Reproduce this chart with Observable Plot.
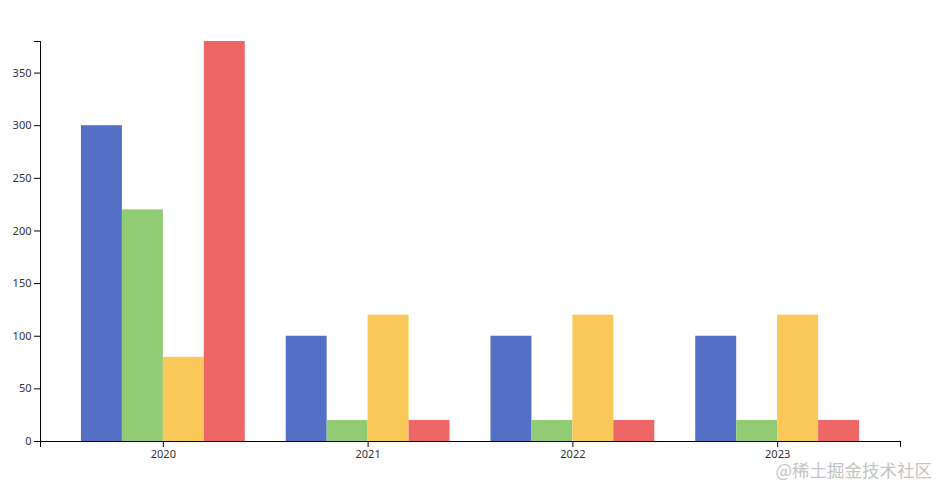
<!DOCTYPE html>
<html>
<head>
<meta charset="utf-8">
<script src="https://cdn.jsdelivr.net/npm/d3@7"></script>
<script src="https://cdn.jsdelivr.net/npm/@observablehq/plot@0.6"></script>
<style>
  html, body { margin: 0; padding: 0; background: #fff; }
  #wrap { position: relative; width: 940px; height: 485px; overflow: hidden; }
  #mark { position: absolute; right: 8px; top: 461px; font-family: "Noto Sans CJK SC", sans-serif; font-size: 17.5px; color: #c4c4c4; white-space: nowrap; line-height: 1; }
</style>
</head>
<body>
<div id="wrap"><div id="mark">@稀土掘金技术社区</div></div>
<script>
const years = ["2020", "2021", "2022", "2023"];
const seriesNames = ["A", "B", "C", "D"];
const seriesColors = ["#5470c6", "#91cc75", "#fac858", "#ee6666"];
const valuesA = [300, 100, 100, 100];
const valuesB = [220, 20, 20, 20];
const valuesC = [80, 120, 120, 120];
const valuesD = [380, 20, 20, 20];
const yTicks = [0, 50, 100, 150, 200, 250, 300, 350];

const allValues = [valuesA, valuesB, valuesC, valuesD];
const groupPad = 0.2;          // band padding (inner & outer), in steps
const barW = (1 - groupPad) / seriesNames.length;
const rows = [];
years.forEach((yr, i) => {
  seriesNames.forEach((s, j) => {
    const x1 = groupPad + i + j * barW;
    rows.push({year: yr, series: s, value: allValues[j][i], x1, x2: x1 + barW});
  });
});
const centers = years.map((_, i) => groupPad + i + (1 - groupPad) / 2);
const xMax = years.length + groupPad;

const chart = Plot.plot({
  width: 940,
  height: 485,
  marginLeft: 40,
  marginRight: 40,
  marginTop: 41,
  marginBottom: 44,
  style: {fontFamily: "'Noto Sans', 'DejaVu Sans', sans-serif", fontSize: "11px", background: "#fff"},
  x: {domain: [0, xMax]},
  y: {domain: [0, 380]},
  color: {domain: seriesNames, range: seriesColors},
  marks: [
    Plot.rectY(rows, {x1: "x1", x2: "x2", y: "value", fill: "series"}),
    Plot.ruleX([0], {stroke: "#000"}),
    Plot.ruleY([0], {stroke: "#000"}),
    Plot.axisY({ticks: yTicks, tickSize: 6, tickPadding: 3, label: null, fill: "#333"}),
    Plot.axisY({ticks: [380], tickSize: 6, tickFormat: () => "", label: null}),
    Plot.axisX({ticks: centers, tickSize: 6, tickPadding: 3, label: null, fill: "#333",
      tickFormat: d => years[Math.round(d - groupPad - (1 - groupPad) / 2)]}),
    Plot.axisX({ticks: [0, xMax], tickSize: 6, tickFormat: () => "", label: null})
  ]
});
document.getElementById("wrap").prepend(chart);
</script>
</body>
</html>
